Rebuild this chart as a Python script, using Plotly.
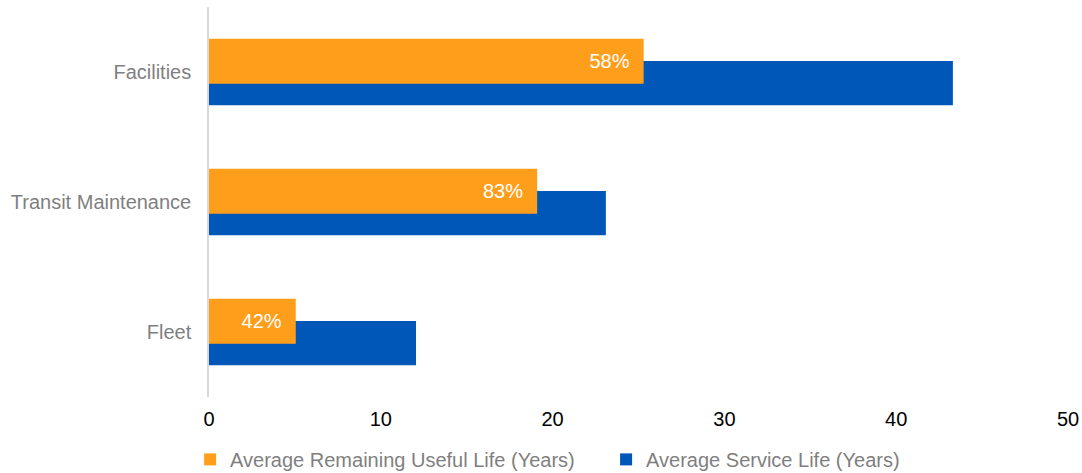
import plotly.graph_objects as go

# categories listed bottom to top
categories = ["Fleet", "Transit Maintenance", "Facilities"]
remaining_life = [5.05, 19.1, 25.3]
service_life = [12.05, 23.1, 43.3]
pct_labels = ["42%", "83%", "58%"]

orange = "#FF9E1B"
blue = "#0057B8"
pad = "\u00a0\u00a0"

remaining = go.Bar(y=categories, x=remaining_life, orientation="h",
                   name="Average Remaining Useful Life (Years)",
                   marker=dict(color=orange, line=dict(width=0)),
                   width=0.345, offset=-0.09,
                   text=[t + pad for t in pct_labels],
                   textposition="inside", insidetextanchor="end",
                   textfont=dict(color="white", size=20,
                                 family="Liberation Sans, Arial"))
service = go.Bar(y=categories, x=service_life, orientation="h",
                 name="Average Service Life (Years)",
                 marker=dict(color=blue, line=dict(width=0)),
                 width=0.34, offset=-0.255)

fig = go.Figure(data=[service, remaining])
fig.update_layout(
    width=1082, height=473,
    barmode="overlay",
    plot_bgcolor="white", paper_bgcolor="white",
    margin=dict(l=209, r=14, t=7, b=76, autoexpand=False),
    font=dict(family="Liberation Sans, Arial", size=20, color="#7F7F7F"),
    showlegend=True,
    legend=dict(orientation="h", x=-0.022, y=-0.16, xanchor="left",
                yanchor="middle", traceorder="reversed",
                font=dict(size=20, color="#7F7F7F"),
                itemwidth=30, entrywidth=371, borderwidth=0),
    xaxis=dict(range=[0, 50], dtick=10, showgrid=False, zeroline=False,
               showline=False, ticks="", automargin=False,
               ticklabelstandoff=8,
               tickfont=dict(color="black", size=20)),
    yaxis=dict(range=[-0.5, 2.5], showgrid=False, zeroline=False,
               showline=True, linecolor="#D9D9D9", linewidth=1.5,
               ticks="", ticklabelstandoff=12, automargin=False,
               tickfont=dict(color="#7F7F7F", size=20)),
)

# drop the page's default body margin so the chart sits at the window origin
fig.write_html("out.html", config={"displayModeBar": False},
               post_script="document.body.style.margin='0';")
